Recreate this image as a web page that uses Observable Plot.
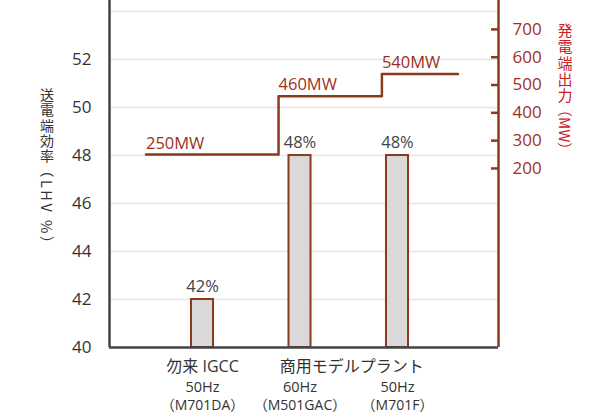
<!DOCTYPE html>
<html><head><meta charset="utf-8">
<script src="https://cdn.jsdelivr.net/npm/d3@7"></script>
<script src="https://cdn.jsdelivr.net/npm/@observablehq/plot@0.6"></script>
<style>body{margin:0;background:#fff;}</style>
</head><body><div id="chart"></div>
<script>
// ---- data ----
const barPos = [1, 2, 3];
const efficiency = [42, 48, 48];
const freqLabels = ["50Hz", "60Hz", "50Hz"];
const modelLabels = ["（M701DA）", "（M501GAC）", "（M701F）"];
const groupLabels = ["勿来 IGCC", "商用モデルプラント"];
const groupPos = [1, 2.53];
const outputMW = [250, 460, 540];
const stepX = [0.42, 1.78, 2.84, 3.62];
const effTicks = [40, 42, 44, 46, 48, 50, 52];
const gridTicks = [42, 44, 46, 48, 50, 52, 54];
const mwTicks = [200, 300, 400, 500, 600, 700];
const leftTitle = "送電端効率（LHV %）";
const rightTitle = "発電端出力（MW）";

// ---- scales ----
const xDomain = [0.046, 4.036];
const yDomain = [40, 54.46];
const mwDomain = [-444, 804];
const mwToEff = d3.scaleLinear().domain(mwDomain).range(yDomain);
const effToMw = mwToEff.invert;

const brown = "#8b3a1e";
const darkRed = "#a0301e";
const font = "'Open Sans', 'Noto Sans CJK JP', sans-serif";
const cjkFont = "'Noto Sans CJK JP', sans-serif";

const stepData = stepX.map((x, i) => ({x, mw: outputMW[Math.min(i, outputMW.length - 1)]}));

const chart = Plot.plot({
  width: 614, height: 413,
  marginLeft: 109, marginRight: 116, marginTop: 0, marginBottom: 66,
  style: {fontFamily: font, background: "#fff", overflow: "visible"},
  x: {domain: xDomain, axis: null},
  y: {domain: yDomain, axis: null},
  marks: [
    Plot.gridY(gridTicks, {stroke: "#e6e6e6", strokeOpacity: 1, strokeWidth: 1.5}),
    Plot.axisY(effTicks, {anchor: "left", tickSize: 0, tickPadding: 18, fontSize: 17, fill: "#333", label: null}),
    Plot.axisY(mwTicks.map(mwToEff), {anchor: "right", tickFormat: d => Math.round(effToMw(d)), tickSize: -8, tickPadding: 22, fontSize: 17, fill: darkRed, stroke: brown, strokeWidth: 2.5, label: null}),
    Plot.rect(barPos, {x1: d => d - 0.113, x2: d => d + 0.113, y1: 40, y2: (d, i) => efficiency[i], fill: "#d9d9d9", stroke: brown, strokeWidth: 2}),
    Plot.text(barPos, {x: d => d, y: (d, i) => efficiency[i], text: (d, i) => efficiency[i] + "%", dy: -13, fontSize: 16.5, fill: "#444"}),
    Plot.line(stepData, {x: "x", y: d => mwToEff(d.mw), curve: "step-after", stroke: brown, strokeWidth: 2.5}),
    Plot.text(outputMW, {x: (d, i) => stepX[i], y: d => mwToEff(d), text: d => d + "MW", textAnchor: "start", dy: -11, fontSize: 16.5, fill: darkRed}),
    Plot.ruleX([xDomain[0]], {stroke: "#444", strokeWidth: 2.5}),
    Plot.ruleY([40], {stroke: "#444", strokeWidth: 2.5}),
    Plot.ruleX([xDomain[1]], {stroke: brown, strokeWidth: 2.5}),
    Plot.text(groupLabels, {x: (d, i) => groupPos[i], y: 40, dy: 19, fontSize: 16, fill: "#333"}),
    Plot.text(freqLabels, {x: (d, i) => barPos[i], y: 40, dy: 40, fontSize: 14.5, fill: "#333"}),
    Plot.text(modelLabels, {x: (d, i) => barPos[i], y: 40, dy: 58, fontSize: 14, fill: "#333"})
  ]
});

// vertical titles: CJK characters stacked upright, bracketed part rotated clockwise
function verticalTitle(svg, title, cx, top, step, size, latinSize, spacing, color) {
  const m = title.match(/^([^（(]+)(.*)$/);
  const chars = Array.from(m[1]);
  const g = svg.append("g").attr("font-family", cjkFont).attr("fill", color);
  const t = g.append("text").attr("font-size", size).attr("text-anchor", "middle").attr("dominant-baseline", "central");
  chars.forEach((ch, i) => {
    t.append("tspan").attr("x", cx).attr("y", top + step * i + step / 2).text(ch);
  });
  g.append("text")
    .attr("font-size", latinSize).attr("letter-spacing", spacing)
    .attr("transform", `translate(${cx},${top + step * chars.length}) rotate(90)`)
    .attr("text-anchor", "start").attr("dominant-baseline", "central")
    .text(m[2]);
}
const svg = d3.select(chart);
verticalTitle(svg, leftTitle, 47, 86, 15.4, 14, 14.5, 2.5, "#333");
verticalTitle(svg, rightTitle, 565, 21, 16.2, 15, 15, 0, "#c8201e");

document.getElementById("chart").appendChild(chart);
</script>
</body></html>
